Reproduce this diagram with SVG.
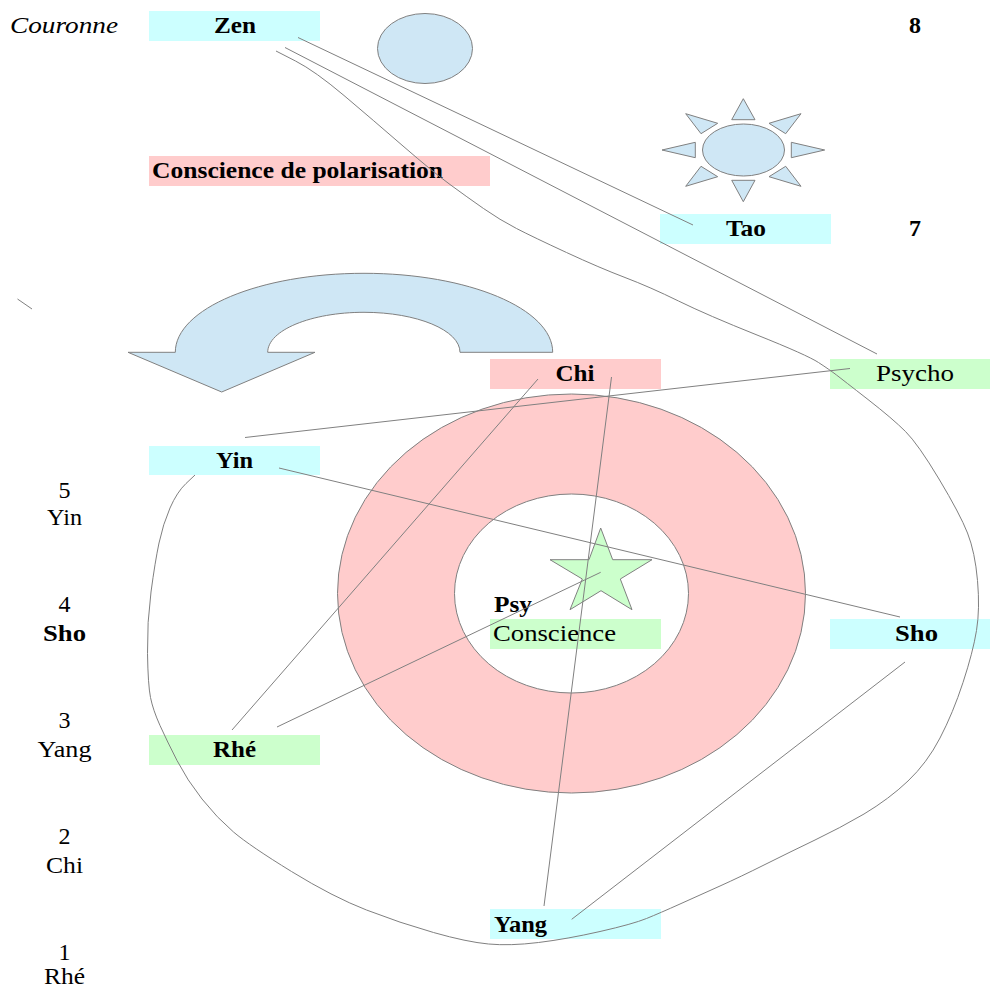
<svg xmlns="http://www.w3.org/2000/svg" width="990" height="989" viewBox="0 0 990 989">
<style>
text{font-family:"Liberation Serif","Times New Roman",serif;font-size:24px;fill:#000;text-anchor:middle}
.b{font-weight:bold}
.i{font-style:italic}
.s{fill:#cfe7f5;stroke:#808080;stroke-width:1}
.c{fill:#ccffff}.p{fill:#ffcccc}.g{fill:#ccffcc}
#connectors path{fill:none;stroke:#808080;stroke-width:1}
</style>
<rect width="990" height="989" fill="#fff"/>
<g id="moon"><ellipse class="s" cx="425" cy="48.5" rx="47.5" ry="35"/></g>
<g id="sun">
<ellipse class="s" cx="743.5" cy="150" rx="41" ry="26"/>
<path class="s" d="M743.3 98.7L731.7 119.7H755ZM743.3 201.7L731.7 180.3H755ZM662 150L695.3 142.3V157.7ZM824.7 150L791.3 142.3V157.7ZM685.7 113.7L717.7 123.3L701 133.7ZM801 113.7L769 123.3L785.7 133.7ZM685.7 186.3L717.7 176.7L701 166.3ZM801 186.3L769 176.7L785.7 166.3Z"/>
</g>
<g id="curved-arrow"><path class="s" d="M128 352.3H175.3C175.3 308.7 259.8 273.3 364 273.3C468.2 273.3 552.7 308.7 552.7 352.3H460C460 330.2 417 312.3 364 312.3C311 312.3 267.7 330.2 267.7 352.3H315L221.7 392Z"/></g>
<g id="ring"><path d="M337.5 593.5A234 199.5 0 1 1 805.5 593.5A234 199.5 0 1 1 337.5 593.5ZM454.5 593.5A117 99.5 0 1 0 688.5 593.5A117 99.5 0 1 0 454.5 593.5Z" fill="#ffcccc" fill-rule="evenodd" stroke="#808080"/></g>
<g id="star"><path d="M600.7 528L612.7 559.7H652L620.3 579L632 609.7L601 590.7L570 609.7L582.3 579L550 559.7H589Z" fill="#ccffcc" stroke="#808080"/></g>
<g id="zen"><rect class="c" x="149" y="11" width="171" height="30"/><text class="b" x="235" y="33" textLength="42" lengthAdjust="spacingAndGlyphs">Zen</text></g>
<g id="polarisation"><rect class="p" x="149" y="156" width="341" height="30"/><text class="b" x="297.5" y="178" textLength="291" lengthAdjust="spacingAndGlyphs">Conscience de polarisation</text></g>
<g id="tao"><rect class="c" x="660" y="214" width="171" height="30"/><text class="b" x="746" y="236" textLength="40" lengthAdjust="spacingAndGlyphs">Tao</text></g>
<g id="chi"><rect class="p" x="490" y="359" width="171" height="30"/><text class="b" x="575" y="381" textLength="39" lengthAdjust="spacingAndGlyphs">Chi</text></g>
<g id="psycho"><rect class="g" x="830" y="359" width="160" height="30"/><text x="915" y="381" textLength="78" lengthAdjust="spacingAndGlyphs">Psycho</text></g>
<g id="yin"><rect class="c" x="149" y="446" width="171" height="29"/><text class="b" x="234.5" y="468" textLength="37" lengthAdjust="spacingAndGlyphs">Yin</text></g>
<g id="sho"><rect class="c" x="830" y="619" width="160" height="30"/><text class="b" x="916.5" y="641" textLength="43" lengthAdjust="spacingAndGlyphs">Sho</text></g>
<g id="conscience"><rect class="g" x="490" y="619" width="171" height="30"/><text x="554.5" y="641" textLength="123" lengthAdjust="spacingAndGlyphs">Conscience</text></g>
<g id="psy"><text class="b" x="513" y="612" textLength="38" lengthAdjust="spacingAndGlyphs">Psy</text></g>
<g id="rhe"><rect class="g" x="149" y="735" width="171" height="30"/><text class="b" x="234.5" y="757" textLength="43" lengthAdjust="spacingAndGlyphs">Rhé</text></g>
<g id="yang"><rect class="c" x="490" y="909" width="171" height="30"/><text class="b" x="520.5" y="932" textLength="53" lengthAdjust="spacingAndGlyphs">Yang</text></g>
<g id="labels">
<text class="i" x="64" y="33" textLength="108" lengthAdjust="spacingAndGlyphs">Couronne</text>
<text class="b" x="915" y="33">8</text>
<text class="b" x="915" y="236">7</text>
<text x="64.5" y="498">5</text><text x="64.5" y="525" textLength="35" lengthAdjust="spacingAndGlyphs">Yin</text>
<text x="64.5" y="612">4</text><text class="b" x="64.5" y="641" textLength="43" lengthAdjust="spacingAndGlyphs">Sho</text>
<text x="64.5" y="728">3</text><text x="64.5" y="757" textLength="54" lengthAdjust="spacingAndGlyphs">Yang</text>
<text x="64.5" y="844">2</text><text x="64.5" y="873" textLength="37" lengthAdjust="spacingAndGlyphs">Chi</text>
<text x="64.5" y="960">1</text><text x="64.5" y="983.5" textLength="41" lengthAdjust="spacingAndGlyphs">Rhé</text>
</g>
<g id="connectors">
<path d="M298 37.5L693 225"/>
<path d="M285 47.5L877 354"/>
<path d="M850 368.5L245 437.5"/>
<path d="M538 379L232 730"/>
<path d="M611.5 377L544 906"/>
<path d="M279 468L900 617"/>
<path d="M277 727L600.7 572.3"/>
<path d="M905 662L571.7 919.3"/>
<path d="M17.5 299L32 309"/>
<path d="M276 51L295.5 61Q315 71 344 95.5Q373 120 403 146Q433 172 450 184.5Q467 197 483.5 208.5Q500 220 516.5 228.5Q533 237 566.5 252.5Q600 268 625 277.5Q650 287 678.5 301Q707 315 757 335Q807 355 818.5 362.5Q830 370 836.5 375Q843 380 868 399.5Q893 419 905.5 431.5Q918 444 939 479Q960 514 967.5 533Q975 552 977.5 580.5Q980 609 976.5 630.5Q973 652 963 682.5Q953 713 940 738Q927 763 908 781Q889 799 864 814Q840 828 815 840Q790 852 765 864.5Q740 877 720 886Q700 895 680 904Q660 913 646.5 918.5Q633 924 600 931.5Q567 939 538.5 942.5Q510 946 488.5 944Q467 942 433.5 932.5Q400 923 366.5 910Q333 897 291.5 871.5Q250 846 233.5 832Q217 818 202 799Q187 780 177 760.5Q167 741 160 725.5Q153 710 150.5 697.5Q148 685 147.5 653.5Q147 622 151 592Q155 562 159 543Q163 524 170 508Q177 492 186 483.5L195 475"/>
</g>
</svg>
